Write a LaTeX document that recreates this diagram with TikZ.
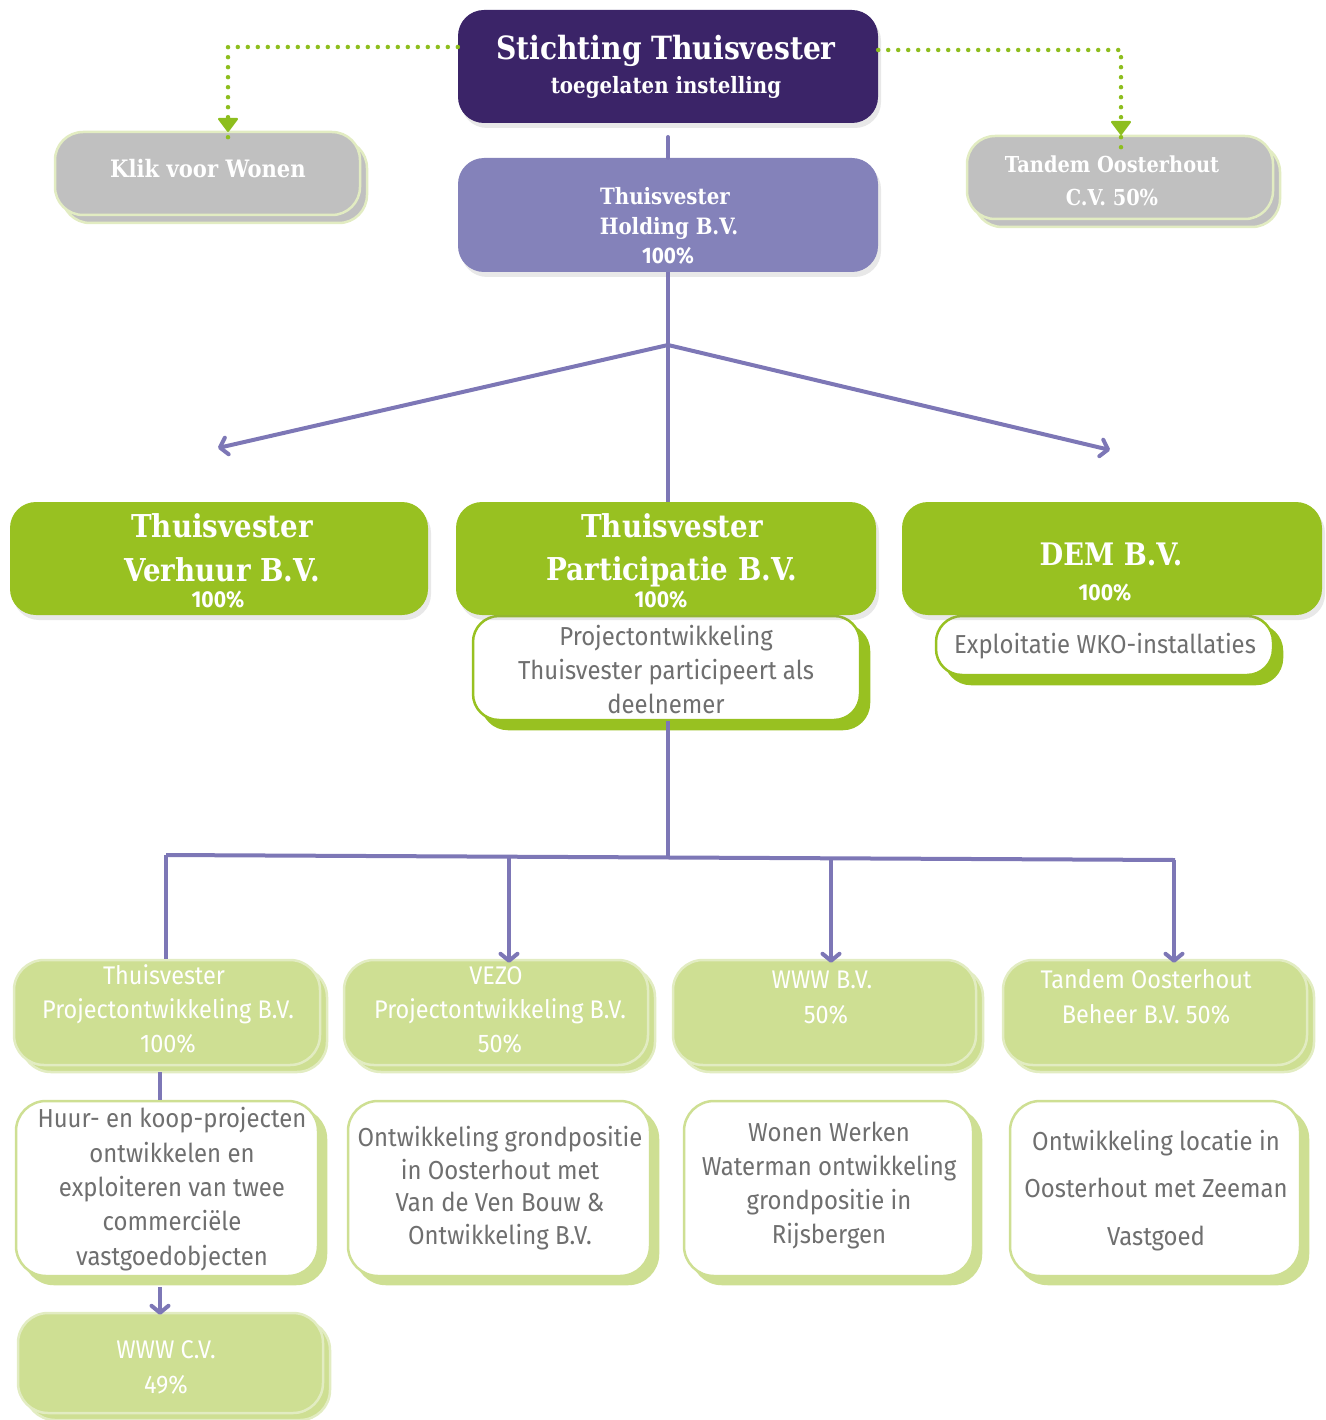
\documentclass[tikz,border=0pt]{standalone}
\usepackage{fontspec}
\setmainfont{DejaVu Serif}
\newfontfamily\slab[FakeStretch=0.88]{DejaVu Serif}
\newfontfamily\csans[FakeStretch=0.92]{Fira Sans}
\usetikzlibrary{arrows.meta,shadows}
\definecolor{dpurple}{HTML}{3B2468}
\definecolor{mpurple}{HTML}{8482BA}
\definecolor{lpurple}{HTML}{7D77B6}
\definecolor{tgreen}{HTML}{98C121}
\definecolor{dotgreen}{HTML}{8DBE1E}
\definecolor{lgreen}{HTML}{CEDF93}
\definecolor{pgreen}{HTML}{E2ECC2}
\definecolor{boxgrey}{HTML}{C0C0C0}
\definecolor{txtgrey}{HTML}{6F6F6F}
\begin{document}
\begin{tikzpicture}[x=1pt,y=-1pt,
  bigbox/.style={rectangle, rounded corners=26pt, inner sep=0pt,
    drop shadow={opacity=0.18, shadow xshift=3pt, shadow yshift=-5pt}},
  greybox/.style={rectangle, rounded corners=28pt, inner sep=0pt, fill=boxgrey, draw=pgreen, line width=2.5pt,
    copy shadow={shadow xshift=7pt, shadow yshift=-8pt}},
  lgbox/.style={rectangle, rounded corners=30pt, inner sep=0pt, fill=lgreen, draw=pgreen, line width=2.5pt,
    copy shadow={shadow xshift=7pt, shadow yshift=-7pt}},
  wbox/.style={rectangle, rounded corners=30pt, inner sep=0pt, fill=white, draw=lgreen, line width=2.5pt,
    copy shadow={fill=lgreen, draw=lgreen, shadow xshift=8pt, shadow yshift=-8pt}},
  wgbox/.style={rectangle, rounded corners=26pt, inner sep=0pt, fill=white, draw=tgreen, line width=2.5pt,
    copy shadow={fill=tgreen, draw=tgreen, shadow xshift=9pt, shadow yshift=-9pt}},
  ttl/.style={anchor=base, inner sep=0pt, text=white, align=center},
  dsc/.style={anchor=base, inner sep=0pt, text=txtgrey, align=center},
  pline/.style={draw=lpurple, line width=4pt},
  parrow/.style={pline, -{Straight Barb[length=7pt,width=17pt,round]}},
  dotline/.style={draw=dotgreen, line width=4.5pt, line cap=round, dash pattern=on 0pt off 10pt},
  dottip/.style={draw=dotgreen, fill=dotgreen, line width=2pt, line join=round}
]
\useasboundingbox (0,0) rectangle (1325,1420);

% ---------- top row ----------
\node[bigbox, fill=dpurple, minimum width=420pt, minimum height=113pt] (stich) at (668,66.5) {};
\node[ttl, font={\slab\bfseries\fontsize{32}{38}\selectfont}] (stich-t1) at (666,60) {Stichting Thuisvester};
\node[ttl, font={\slab\bfseries\fontsize{22.5}{27}\selectfont}] (stich-t2) at (666,94) {toegelaten instelling};

\node[greybox, minimum width=305pt, minimum height=83pt] (klik) at (207.5,173.5) {};
\node[ttl, font={\slab\bfseries\fontsize{24}{29}\selectfont}] (klik-t) at (208,178) {Klik voor Wonen};

\node[greybox, minimum width=306pt, minimum height=83pt] (tcv) at (1120,177.5) {};
\node[ttl, font={\slab\bfseries\fontsize{22}{33}\selectfont}] (tcv-t) at (1112,206) {Tandem Oosterhout\\C.V. 50\%};

\node[bigbox, fill=mpurple, minimum width=420pt, minimum height=114pt] (hold) at (668,215) {};
\node[ttl, font={\slab\bfseries\fontsize{22.5}{30}\selectfont}] (hold-t) at (665,235) {Thuisvester\\ \hspace{8pt}Holding B.V.};
\node[ttl, font={\csans\bfseries\fontsize{22.5}{26}\selectfont}] (hold-p) at (668,264) {100\%};

% dotted connectors with solid heads
\coordinate (klik-in) at (228,131);
\coordinate (tcv-in) at (1121,134);
\draw[dotline] (stich.west |- 0,47) -| ([yshift=-14pt]klik-in);
\draw[dotline] (stich.east |- 0,50) -| ([yshift=-14pt]tcv-in);
\draw[dottip] ([shift={(-9,-12)}]klik-in) -- ([shift={(9,-12)}]klik-in) -- (klik-in) -- cycle;
\draw[dottip] ([shift={(-9,-12)}]tcv-in) -- ([shift={(9,-12)}]tcv-in) -- (tcv-in) -- cycle;

% ---------- middle row ----------
\node[bigbox, fill=tgreen, minimum width=418pt, minimum height=113pt] (verh) at (219,558.5) {};
\node[ttl, font={\slab\bfseries\fontsize{31.5}{44}\selectfont}] (verh-t) at (222,581) {Thuisvester\\Verhuur B.V.};
\node[ttl, font={\csans\bfseries\fontsize{23}{28}\selectfont}] (verh-p) at (218,607) {100\%};

\node[wgbox, minimum width=387pt, minimum height=104pt] (partd) at (666.5,668) {};
\node[bigbox, fill=tgreen, minimum width=420pt, minimum height=113pt] (part) at (666,558.5) {};
\node[ttl, font={\slab\bfseries\fontsize{31.5}{43}\selectfont}] (part-t) at (672,580) {Thuisvester\\Participatie B.V.};
\node[ttl, font={\csans\bfseries\fontsize{23}{28}\selectfont}] (part-p) at (661,607) {100\%};
\node[dsc, font={\csans\fontsize{26}{34}\selectfont}] (partd-t) at (666,713) {Projectontwikkeling\\Thuisvester participeert als\\deelnemer};

\node[wgbox, minimum width=337pt, minimum height=59pt] (demd) at (1104.5,645.5) {};
\node[bigbox, fill=tgreen, minimum width=420pt, minimum height=113pt] (dem) at (1112,558.5) {};
\node[ttl, font={\slab\bfseries\fontsize{31}{38}\selectfont}] (dem-t) at (1111,565) {DEM B.V.};
\node[ttl, font={\csans\bfseries\fontsize{23}{28}\selectfont}] (dem-p) at (1105,600) {100\%};
\node[dsc, font={\csans\fontsize{26}{34}\selectfont}] (demd-t) at (1105,653) {Exploitatie WKO-installaties};

% purple connectors top
\coordinate (hold-top) at (668,137);
\coordinate (split) at (668,345);
\coordinate (arrL) at (218,448);
\coordinate (arrR) at (1110,450);
\draw[pline, line cap=round] (hold-top) -- (hold.north -| hold-top);
\draw[pline] (hold.south -| split) -- (part.north -| split);
\draw[parrow] (split) -- (arrL);
\draw[parrow] (split) -- (arrR);

% ---------- lower row ----------
\node[lgbox, minimum width=306pt, minimum height=105pt] (tpo) at (167,1012.5) {};
\node[lgbox, minimum width=304pt, minimum height=105pt] (vezo) at (496,1012.5) {};
\node[lgbox, minimum width=303pt, minimum height=105pt] (wwwbv) at (824.5,1012.5) {};
\node[lgbox, minimum width=304pt, minimum height=105pt] (tob) at (1155,1012.5) {};

\node[ttl, font={\csans\fontsize{25.5}{34}\selectfont}] (tpo-t) at (168,1052) {\hspace{-8pt}Thuisvester\\Projectontwikkeling B.V.\\100\%};
\node[ttl, font={\csans\fontsize{25.5}{34}\selectfont}] (vezo-t) at (500,1052) {\hspace{-8pt}VEZO\\Projectontwikkeling B.V.\\ 50\%};
\node[ttl, font={\csans\fontsize{25.5}{35}\selectfont}] (wwwbv-t) at (826,1023) {\hspace{-8pt}WWW B.V.\\50\%};
\node[ttl, font={\csans\fontsize{25.5}{35}\selectfont}] (tob-t) at (1146,1023) {Tandem Oosterhout\\Beheer B.V. 50\%};

\node[wbox, minimum width=302pt, minimum height=175pt] (tpod) at (167,1188.5) {};
\node[wbox, minimum width=302pt, minimum height=175pt] (vezod) at (499,1188.5) {};
\node[wbox, minimum width=289pt, minimum height=175pt] (wwwd) at (828.5,1188.5) {};
\node[wbox, minimum width=290pt, minimum height=175pt] (tobd) at (1155,1188.5) {};

\node[dsc, font={\csans\fontsize{26}{34.3}\selectfont}] (tpod-t) at (172,1265) {Huur- en koop-projecten\\ontwikkelen en\\exploiteren van twee\\commerciële\\vastgoedobjecten};
\node[dsc, font={\csans\fontsize{26}{32.5}\selectfont}] (vezod-t) at (500,1244) {Ontwikkeling grondpositie\\in Oosterhout met\\Van de Ven Bouw \&\\Ontwikkeling B.V.};
\node[dsc, font={\csans\fontsize{26}{33.7}\selectfont}] (wwwd-t) at (829,1243) {Wonen Werken\\Waterman ontwikkeling\\grondpositie in\\Rijsbergen};
\node[dsc, font={\csans\fontsize{26}{47.5}\selectfont}] (tobd-t) at (1156,1245) {Ontwikkeling locatie in\\Oosterhout met Zeeman\\Vastgoed};

\node[lgbox, minimum width=305pt, minimum height=100pt] (wwwcv) at (170.5,1363) {};
\node[ttl, font={\csans\fontsize{25.5}{35}\selectfont}] (wwwcv-t) at (166,1393) {WWW C.V.\\49\%};

% purple connectors bottom
\coordinate (bus) at (668,857);
\draw[pline] (partd.south -| bus) -- (bus);
\draw[pline] (166,855) -- (1175,860);
\draw[pline] (166,855) -- (tpo.north -| 166,0);
\draw[parrow] (509,856.5) -- ([yshift=-4pt]vezo.north -| 509,0);
\draw[parrow] (831,858) -- ([yshift=-4pt]wwwbv.north -| 831,0);
\draw[parrow] (1174,860) -- ([yshift=-4pt]tob.north -| 1174,0);
\draw[pline] ([yshift=-6pt]tpo.south -| 160,0) -- (tpod.north -| 160,0);
\draw[parrow] ([yshift=-10pt]tpod.south -| 160,0) -- ([yshift=-3pt]wwwcv.north -| 160,0);
\end{tikzpicture}
\end{document}
